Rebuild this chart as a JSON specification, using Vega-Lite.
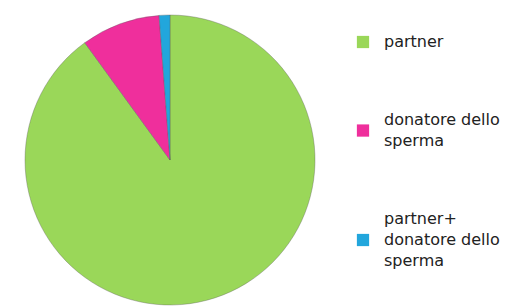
{
  "$schema": "https://vega.github.io/schema/vega-lite/v6.json",
  "width": 340,
  "height": 320,
  "padding": 0,
  "background": "white",
  "data": {
    "values": [
      {"categoria": "partner", "valore": 90.0, "ord": 1},
      {"categoria": "donatore dello sperma", "valore": 8.8, "ord": 2},
      {"categoria": "partner+ donatore dello sperma", "valore": 1.2, "ord": 3}
    ]
  },
  "encoding": {
    "theta": {"field": "valore", "type": "quantitative", "stack": true},
    "order": {"field": "ord", "type": "quantitative"},
    "color": {
      "field": "categoria",
      "type": "nominal",
      "scale": {
        "domain": ["partner", "donatore dello sperma", "partner+ donatore dello sperma"],
        "range": ["#9ad759", "#ef2f9c", "#22a6dc"]
      },
      "legend": {
        "title": null,
        "orient": "none",
        "legendX": 355,
        "legendY": 34,
        "symbolSize": 150,
        "symbolStrokeWidth": 0,
        "symbolOpacity": 1,
        "labelFont": "DejaVu Sans",
        "labelFontSize": 16,
        "labelColor": "#222222",
        "labelBaseline": "middle",
        "labelOffset": 13,
        "labelLimit": 200,
        "rowPadding": 62,
        "labelExpr": "datum.label == 'partner' ? 'partner' : datum.label == 'donatore dello sperma' ? ['donatore dello', 'sperma'] : ['partner+', 'donatore dello', 'sperma']"
      }
    }
  },
  "layer": [
    {
      "mark": {"type": "arc", "outerRadius": 145, "stroke": "#5a5a5a", "strokeWidth": 0.6, "strokeOpacity": 0.6}
    },
    {
      "mark": {"type": "point", "filled": true, "size": 0},
      "encoding": {
        "theta": null,
        "order": null,
        "shape": {
          "field": "categoria",
          "type": "nominal",
          "scale": {
            "domain": ["partner", "donatore dello sperma", "partner+ donatore dello sperma"],
            "range": ["M-1,-1H1V1H-1Z", "M-1,0.72H1V2.72H-1Z", "M-1,2.43H1V4.43H-1Z"]
          },
          "legend": {
            "title": null,
            "orient": "none",
            "legendX": 355,
            "legendY": 34,
            "symbolSize": 150,
            "symbolStrokeWidth": 0,
            "symbolOpacity": 1,
            "labelFont": "DejaVu Sans",
            "labelFontSize": 16,
            "labelColor": "#222222",
            "labelBaseline": "middle",
            "labelOffset": 13,
            "labelLimit": 200,
            "rowPadding": 62,
            "labelExpr": "datum.label == 'partner' ? 'partner' : datum.label == 'donatore dello sperma' ? ['donatore dello', 'sperma'] : ['partner+', 'donatore dello', 'sperma']"
          }
        }
      }
    }
  ],
  "config": {"view": {"stroke": null}, "style": {"guide-label": {"lineHeight": 21}}}
}
